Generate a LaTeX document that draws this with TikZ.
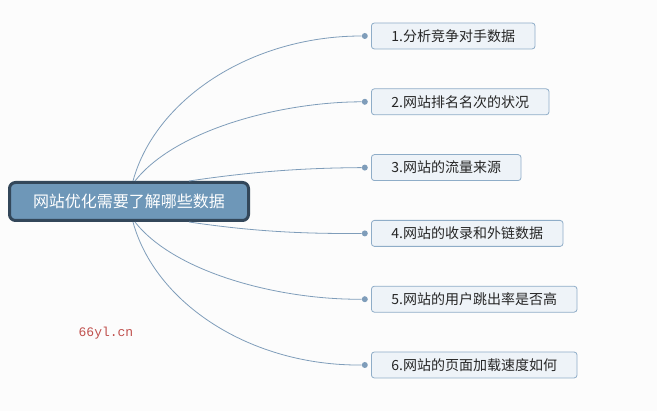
\documentclass[tikz,border=0pt]{standalone}
\usepackage{fontspec}
\newfontfamily\cjk{Noto Sans CJK SC}
\newfontfamily\wmfont{Liberation Mono}
\usetikzlibrary{positioning}

\definecolor{rootfill}{HTML}{6E97B8}
\definecolor{rootline}{HTML}{33475A}
\definecolor{leaffill}{HTML}{EEF3F8}
\definecolor{leafline}{HTML}{8FADC8}
\definecolor{branch}{HTML}{7F9DBA}
\definecolor{wmred}{HTML}{C0504D}

\tikzset{
  root/.style={draw=rootline, line width=3pt, fill=rootfill, rounded corners=6pt,
    text=white, font=\cjk\fontsize{16}{18}\selectfont,
    minimum width=239pt, minimum height=38pt},
  leaf/.style={draw=leafline, line width=0.8pt, fill=leaffill, rounded corners=3pt,
    text=black!85, font=\cjk\fontsize{14}{16}\selectfont,
    inner xsep=20pt, minimum height=26pt, anchor=west},
  dot/.style={circle, fill=branch, inner sep=0pt, minimum size=6pt},
  branchline/.style={draw=branch, line width=0.8pt}
}

\begin{document}
\begin{tikzpicture}[x=1pt,y=-1pt]
\useasboundingbox[fill=black!1] (0,0) rectangle (657,411);

\node(root) [root] at (129,201.5)                          {网站优化需要了解哪些数据};
\node(c1)   [leaf] at (371,36)                             {1.分析竞争对手数据};
\node(c2)   [leaf, below=39pt of c1.south west, anchor=north west] {2.网站排名名次的状况};
\node(c3)   [leaf, below=39pt of c2.south west, anchor=north west] {3.网站的流量来源};
\node(c4)   [leaf, below=39pt of c3.south west, anchor=north west] {4.网站的收录和外链数据};
\node(c5)   [leaf, below=39pt of c4.south west, anchor=north west] {5.网站的用户跳出率是否高};
\node(c6)   [leaf, below=39pt of c5.south west, anchor=north west] {6.网站的页面加载速度如何};

\node(d1)   [dot, left=3pt of c1] {};
\node(d2)   [dot, left=3pt of c2] {};
\node(d3)   [dot, left=3pt of c3] {};
\node(d4)   [dot, left=3pt of c4] {};
\node(d5)   [dot, left=3pt of c5] {};
\node(d6)   [dot, left=3pt of c6] {};

% branches
\draw[branchline] ([xshift=4pt]root.north)  .. controls (155,100) and (250,36)  .. (d1);
\draw[branchline] ([xshift=6pt]root.north)  .. controls (175,130) and (280,102) .. (d2);
\draw[branchline] ([xshift=60pt]root.north) .. controls (250,172) and (300,168) .. (d3);
\draw[branchline] ([xshift=60pt]root.south) .. controls (250,231) and (300,234) .. (d4);
\draw[branchline] ([xshift=6pt]root.south)  .. controls (175,273) and (280,300) .. (d5);
\draw[branchline] ([xshift=4pt]root.south)  .. controls (155,303) and (250,366) .. (d6);

\node(wm) [text=wmred, font=\wmfont\fontsize{13}{15}\selectfont] at (106,333) {66yl.cn};
\end{tikzpicture}
\end{document}
